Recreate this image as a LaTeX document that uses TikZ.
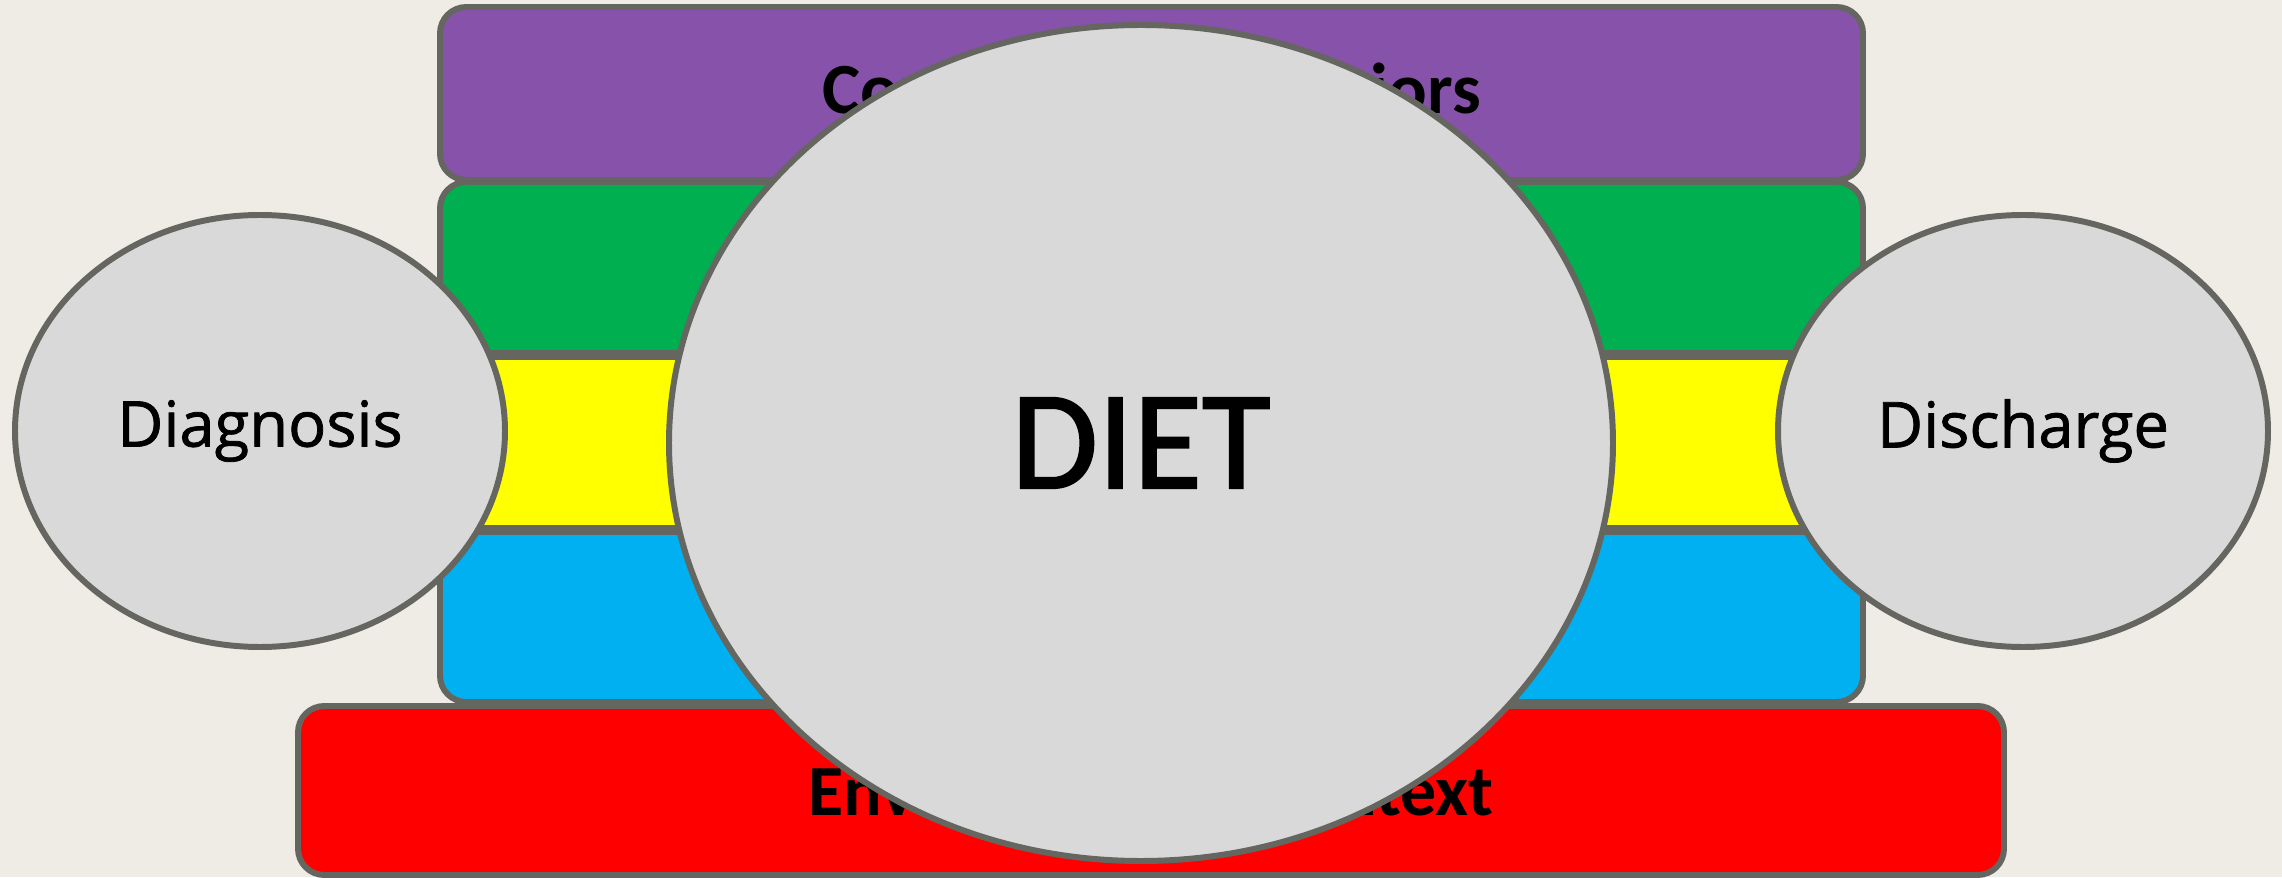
\documentclass[tikz,border=0pt]{standalone}
\usepackage{fontspec}
\setmainfont{Carlito}
\newfontfamily\bubblefont[FakeBold=1.2]{Open Sans}
\newfontfamily\dietfont[FakeBold=1.5]{Carlito}
\usetikzlibrary{shapes.geometric}

\definecolor{paper}{RGB}{239,236,229}
\definecolor{edgegray}{RGB}{102,102,96}
\definecolor{bubblegray}{RGB}{217,217,217}
\definecolor{layerpurple}{RGB}{134,82,170}
\definecolor{layergreen}{RGB}{0,176,80}
\definecolor{layeryellow}{RGB}{255,255,0}
\definecolor{layerblue}{RGB}{0,176,240}
\definecolor{layerred}{RGB}{255,0,0}

\begin{document}
\begin{tikzpicture}[
		layer/.style={draw=edgegray, line width=1.7pt, rounded corners=7.5pt},
		layertext/.style={font=\bfseries\fontsize{20.5}{24}\selectfont, text=black},
		bubble/.style={ellipse, draw=edgegray, fill=bubblegray, line width=1.7pt, inner sep=0pt},
		sidetext/.style={font=\bubblefont\fontsize{18}{22}\selectfont}
	]
	% page and background
	\useasboundingbox (0,0) rectangle (22.82,8.77);
	\fill[paper] (0,0) rectangle (22.82,8.77);
	% top layer
	\filldraw[layer, fill=layerpurple] (4.40,6.97) rectangle (18.63,8.70);
	\node[layertext] (behav) at (11.515,7.835) {Community Behaviors};
	% middle stack: green, yellow, blue
	\begin{scope}
		\clip[rounded corners=7.5pt] (4.40,1.75) rectangle (18.63,6.95);
		\fill[layergreen] (4.40,5.22) rectangle (18.63,6.95);
		\fill[layeryellow] (4.40,3.47) rectangle (18.63,5.22);
		\fill[layerblue] (4.40,1.75) rectangle (18.63,3.47);
	\end{scope}
	\draw[layer] (4.40,1.75) rectangle (18.63,6.95);
	\coordinate (gyl) at (4.40,5.22);
	\coordinate (gyr) at (18.63,5.22);
	\coordinate (ybl) at (4.40,3.47);
	\coordinate (ybr) at (18.63,3.47);
	\draw[edgegray, line width=3pt] (gyl) -- (gyr);
	\draw[edgegray, line width=3pt] (ybl) -- (ybr);
	% bottom layer
	\filldraw[layer, fill=layerred] (2.98,0.02) rectangle (20.04,1.71);
	\node[layertext] (envir) at (11.51,0.865) {Environmental Context};
	% side bubbles
	\node[bubble, sidetext, minimum width=4.90cm, minimum height=4.32cm] (diag) at (2.60,4.46) {Diagnosis};
	\node[bubble, sidetext, minimum width=4.90cm, minimum height=4.32cm] (disch) at (20.23,4.46) {Discharge};
	% centre bubble
	\node[bubble, font=\dietfont\fontsize{40}{48}\selectfont, minimum width=9.44cm, minimum height=8.36cm] (diet) at (11.41,4.34) {DIET};
\end{tikzpicture}
\end{document}
